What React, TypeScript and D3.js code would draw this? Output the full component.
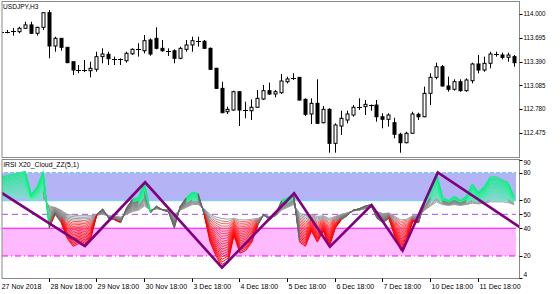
import React from "react";
import * as d3 from "d3";

// ---- data ----
const xTickIdx = [0, 8, 16, 24, 32, 40, 48, 56, 64, 72, 80];
const xTickLabels = ["27 Nov 2018", "28 Nov 18:00", "29 Nov 18:00", "30 Nov 18:00", "3 Dec 18:00", "4 Dec 18:00", "5 Dec 18:00", "6 Dec 18:00", "7 Dec 18:00", "10 Dec 18:00", "11 Dec 18:00"];

const openP = [113.773, 113.770, 113.773, 113.773, 113.817, 113.860, 113.753, 113.829, 114.017, 113.590, 113.688, 113.573, 113.388, 113.282, 113.278, 113.273, 113.291, 113.453, 113.483, 113.427, 113.420, 113.401, 113.490, 113.547, 113.529, 113.667, 113.688, 113.560, 113.529, 113.529, 113.432, 113.547, 113.603, 113.658, 113.650, 113.560, 113.304, 113.047, 112.747, 112.769, 113.004, 112.769, 112.760, 112.804, 112.910, 113.017, 112.974, 112.991, 113.132, 113.170, 113.188, 112.906, 112.718, 112.855, 112.606, 112.778, 112.342, 112.564, 112.641, 112.705, 112.804, 112.812, 112.835, 112.833, 112.683, 112.650, 112.606, 112.458, 112.350, 112.471, 112.714, 112.683, 112.983, 113.188, 113.324, 113.077, 113.035, 113.132, 113.017, 113.145, 113.359, 113.282, 113.368, 113.487, 113.474, 113.445, 113.453];
const highP = [113.786, 113.795, 113.821, 113.837, 113.901, 113.901, 113.837, 114.020, 114.051, 113.709, 113.692, 113.575, 113.390, 113.346, 113.410, 113.388, 113.517, 113.560, 113.517, 113.453, 113.432, 113.517, 113.560, 113.624, 113.731, 113.688, 113.829, 113.667, 113.560, 113.547, 113.581, 113.667, 113.709, 113.709, 113.667, 113.570, 113.310, 113.132, 112.812, 113.017, 113.010, 112.876, 112.906, 113.026, 113.090, 113.120, 113.026, 113.231, 113.196, 113.240, 113.192, 112.919, 112.919, 113.163, 112.820, 112.791, 112.599, 112.760, 112.760, 112.833, 112.919, 112.897, 112.840, 112.897, 112.727, 112.727, 112.670, 112.478, 112.490, 112.747, 112.735, 113.068, 113.240, 113.376, 113.346, 113.196, 113.163, 113.163, 113.176, 113.376, 113.474, 113.453, 113.517, 113.517, 113.504, 113.504, 113.474];
const lowP = [113.760, 113.753, 113.722, 113.753, 113.810, 113.745, 113.722, 113.795, 113.432, 113.517, 113.529, 113.370, 113.218, 113.240, 113.255, 113.188, 113.260, 113.368, 113.346, 113.346, 113.346, 113.376, 113.476, 113.453, 113.496, 113.465, 113.547, 113.517, 113.462, 113.368, 113.420, 113.517, 113.517, 113.581, 113.550, 113.282, 113.040, 112.727, 112.718, 112.760, 112.564, 112.663, 112.641, 112.800, 112.897, 112.962, 112.932, 112.974, 113.111, 113.154, 112.890, 112.692, 112.590, 112.590, 112.599, 112.222, 112.222, 112.449, 112.599, 112.683, 112.769, 112.705, 112.760, 112.620, 112.535, 112.556, 112.406, 112.222, 112.342, 112.462, 112.641, 112.676, 112.833, 113.163, 113.068, 113.004, 113.017, 113.004, 113.004, 113.111, 113.240, 113.260, 113.304, 113.453, 113.419, 113.388, 113.324];
const closeP = [113.773, 113.773, 113.776, 113.817, 113.860, 113.753, 113.829, 114.017, 113.590, 113.688, 113.573, 113.376, 113.282, 113.278, 113.273, 113.304, 113.453, 113.487, 113.427, 113.423, 113.401, 113.496, 113.547, 113.550, 113.658, 113.487, 113.560, 113.529, 113.525, 113.432, 113.560, 113.603, 113.658, 113.650, 113.560, 113.291, 113.047, 112.735, 112.778, 113.004, 112.769, 112.765, 112.804, 112.919, 113.017, 112.974, 113.004, 113.141, 113.167, 113.179, 112.897, 112.714, 112.855, 112.599, 112.778, 112.342, 112.577, 112.663, 112.718, 112.804, 112.808, 112.842, 112.833, 112.683, 112.650, 112.705, 112.458, 112.350, 112.471, 112.718, 112.683, 112.983, 113.188, 113.324, 113.077, 113.035, 113.132, 113.017, 113.154, 113.359, 113.282, 113.368, 113.487, 113.490, 113.445, 113.474, 113.376];

// outer (fastest) and inner (slowest) RSI lines of the cloud
const rsiFast = [77, 78, 79, 80, 81, 64, 70, 81, 40, 50, 44, 33, 27, 29, 27, 33, 50, 54, 47, 46, 44, 55, 61, 62, 73, 51, 56, 53, 52, 40, 56, 62, 66, 65, 50, 30, 20, 12, 15, 35, 22, 24, 30, 42, 50, 46, 50, 60, 62, 65, 30, 27, 38, 30, 38, 26.5, 40, 46, 49, 53, 54, 56, 57, 47, 44, 47, 34, 24, 31, 45, 44, 60, 70, 80, 62, 60, 63, 60, 63, 72, 66, 70, 77, 77, 75, 73, 63];
const rsiSlow = [61, 61, 61.5, 62, 62, 60, 60.5, 62, 56, 55, 53, 50, 49.5, 49, 49, 49, 49.5, 50, 49, 48.5, 48, 50, 52, 53, 56, 53, 54, 53.5, 53, 50, 53, 55, 57, 57, 54, 50, 48, 47, 46.5, 47, 46, 46, 46.5, 47, 49, 48.5, 49, 53, 55, 57, 51, 49, 50, 48.5, 49, 47, 48.5, 50, 51, 52.5, 53, 54, 55, 52, 50.5, 51, 48.5, 46, 46.5, 49, 49, 53, 56, 59, 57, 56.5, 57, 56.5, 57, 58, 57.5, 58, 59, 59, 59, 58.5, 57];

const zzIdx = [-0.3, 14, 24.1, 37, 49.1, 55.1, 62.1, 67.3, 73.2, 87];
const zzVal = [66.3, 27.2, 73.1, 11.6, 65.1, 26.7, 56.7, 23.8, 80.2, 40.6];

const priceTicks = [114.0, 113.695, 113.39, 113.085, 112.78, 112.475];
const rsiLabels = [90, 80, 60, 50, 40, 20, 4];
const lineCount = 20;

const FONT = "'Liberation Sans', Arial, sans-serif";

export default function App() {
  const x = d3.scaleLinear().domain([0, 86]).range([1.5, 514.06]);
  const yP = d3.scaleLinear().domain([112.154, 114.1538]).range([158, 2]);
  const yR = d3.scaleLinear().domain([4, 90]).range([278.2, 158.8]);

  const left = 2, right = 519.5, bandRight = 516;

  const candles = openP.map((o, i) => {
    const c = closeP[i];
    const cx = Math.floor(x(i)) + 0.5;
    const yo = yP(o), yc = yP(c);
    const top = Math.min(yo, yc), h = Math.abs(yo - yc);
    const bull = c >= o;
    return (
      <g key={i}>
        <line x1={cx} x2={cx} y1={yP(highP[i])} y2={yP(lowP[i])} stroke="#000" strokeWidth={1} />
        {h < 1.6 ? (
          <line x1={cx - 2.5} x2={cx + 2.5} y1={Math.round(top) + 0.5} y2={Math.round(top) + 0.5} stroke="#000" strokeWidth={1} />
        ) : (
          <rect x={cx - 1.5} y={top} width={3} height={h} fill={bull ? "#fff" : "#000"} stroke="#000" strokeWidth={1} />
        )}
      </g>
    );
  });

  const greenI = d3.interpolateRgb("#00F57A", "#7CE8C8");
  const redI = d3.interpolateRgb("#FF0000", "#FF6A6A");
  const grayI = d3.interpolateRgb("#686868", "#A0A0A0");
  const segs: any[] = [];
  for (let k = lineCount - 1; k >= 0; k--) {
    const t = k / (lineCount - 1);
    const val = (i: number) => rsiFast[i] + (rsiSlow[i] - rsiFast[i]) * t;
    for (let i = 0; i < rsiFast.length - 1; i++) {
      const a = val(i), b = val(i + 1);
      const m = (a + b) / 2;
      const col = m > 59.5 ? greenI(t) : m < 45.5 ? redI(t) : grayI(t);
      segs.push(
        <line key={k + "-" + i} x1={x(i)} x2={x(i + 1)} y1={yR(a)} y2={yR(b)} stroke={col} strokeWidth={1} />
      );
    }
  }

  const zz = d3.line<number>().x((d) => x(d)).y((_, i) => yR(zzVal[i]))(zzIdx) || "";

  return (
    <svg width={560} height={294} style={{ position: "absolute", left: 0, top: 0, background: "#fff" }} fontFamily={FONT}>
      <defs>
        <clipPath id="mainClip"><rect x={left} y={2} width={right - left} height={155.5} /></clipPath>
        <clipPath id="indClip"><rect x={left} y={160} width={right - left} height={118} /></clipPath>
      </defs>
      <rect x={0} y={0} width={560} height={294} fill="#fff" />

      {/* main panel */}
      <g clipPath="url(#mainClip)">{candles}</g>
      <rect x={left} y={1.5} width={right - left} height={156} fill="none" stroke="#8a8a8a" strokeWidth={1} />
      <text x={3} y={8.5} fontSize={6.6} fill="#000">USDJPY,H3</text>
      {priceTicks.map((p) => (
        <g key={p}>
          <line x1={right} x2={right + 3} y1={Math.round(yP(p)) + 0.5} y2={Math.round(yP(p)) + 0.5} stroke="#000" />
          <text x={523.5} y={yP(p) + 2.3} fontSize={6.5} textLength={22} lengthAdjust="spacingAndGlyphs" fill="#000">{p.toFixed(3)}</text>
        </g>
      ))}

      {/* indicator panel */}
      <g clipPath="url(#indClip)">
        <rect x={left} y={yR(80)} width={bandRight - left} height={yR(60) - yR(80)} fill="#B3B3F6" />
        <rect x={left} y={yR(40)} width={bandRight - left} height={yR(20) - yR(40)} fill="#FFB9FF" />
        <line x1={left} x2={bandRight} y1={yR(80)} y2={yR(80)} stroke="#7EC4F8" strokeWidth={1.2} />
        <line x1={left} x2={bandRight} y1={yR(80)} y2={yR(80)} stroke="#fff" strokeWidth={1} strokeDasharray="2 4" />
        <line x1={left} x2={bandRight} y1={yR(60)} y2={yR(60)} stroke="#87CEFA" strokeWidth={1.5} />
        <line x1={left} x2={bandRight} y1={yR(50)} y2={yR(50)} stroke="#A050F0" strokeWidth={1} strokeDasharray="6 4" />
        <line x1={left} x2={bandRight} y1={yR(40)} y2={yR(40)} stroke="#FF00FF" strokeWidth={1} />
        <line x1={left} x2={bandRight} y1={yR(20)} y2={yR(20)} stroke="#FF00FF" strokeWidth={1} strokeDasharray="6 3 1 3" />
        {segs}
        <path d={zz} fill="none" stroke="#800080" strokeWidth={2.6} strokeLinejoin="miter" />
      </g>
      <rect x={left} y={159.5} width={right - left} height={119} fill="none" stroke="#8a8a8a" strokeWidth={1} />
      <text x={3.5} y={167} fontSize={6.9} fill="#000">iRSI X20_Cloud_ZZ(5,1)</text>
      {rsiLabels.map((v) => {
        const yy = v === 90 ? 162.3 : v === 4 ? 274.5 : yR(v);
        const ty = Math.round(v === 90 ? 160 : v === 4 ? 278 : yy) + 0.5;
        return (
          <g key={v}>
            <line x1={right} x2={right + 3} y1={ty} y2={ty} stroke="#000" />
            <text x={523.5} y={yy + 2.3} fontSize={6.5} fill="#000">{v}</text>
          </g>
        );
      })}

      {/* time axis */}
      {xTickIdx.map((idx, j) => {
        const xx = Math.floor(x(idx)) + 0.5;
        return (
          <g key={idx}>
            {j > 0 && <line x1={xx} x2={xx} y1={278.5} y2={282} stroke="#000" />}
            <text x={j === 0 ? 1.7 : xx + 1} y={289} fontSize={7} fill="#000">{xTickLabels[j]}</text>
          </g>
        );
      })}
    </svg>
  );
}
